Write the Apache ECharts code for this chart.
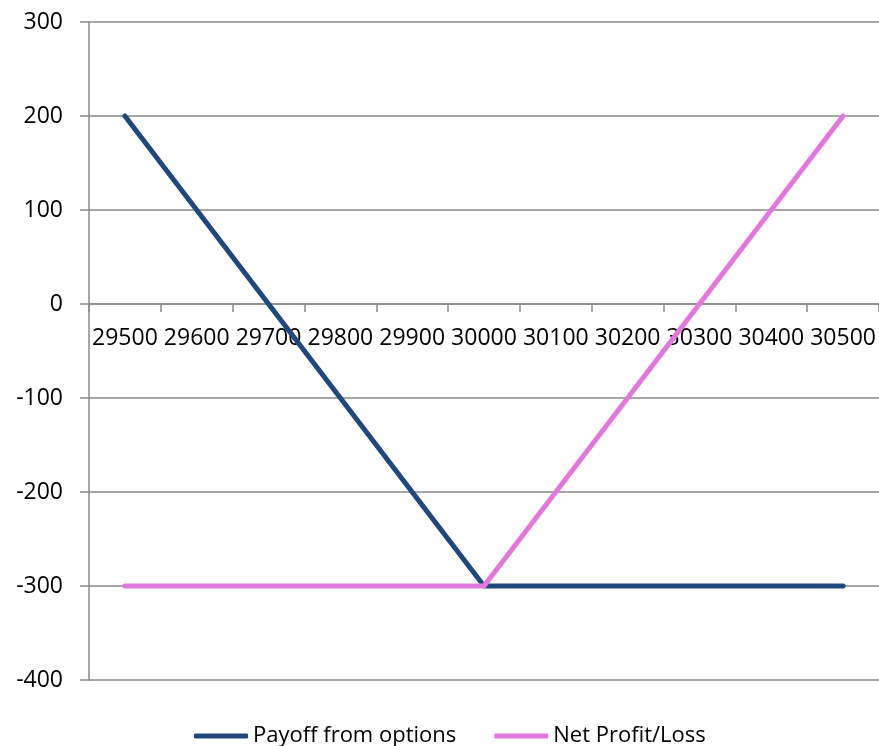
<!DOCTYPE html>
<html>
<head>
<meta charset="utf-8">
<script src="https://cdn.jsdelivr.net/npm/echarts@6/dist/echarts.min.js"></script>
<style>html,body{margin:0;padding:0;background:#fff;}#chart{width:879px;height:746px;}</style>
</head>
<body>
<div id="chart"></div>
<script>
const categories = ['29500','29600','29700','29800','29900','30000','30100','30200','30300','30400','30500'];
const payoffFromOptions = [200, 100, 0, -100, -200, -300, -300, -300, -300, -300, -300];
const netProfitLoss = [-300, -300, -300, -300, -300, -300, -200, -100, 0, 100, 200];
const seriesNames = ['Payoff from options', 'Net Profit/Loss'];

const FONT = '"Open Sans", sans-serif';
const GRAY = '#8a8a8a';
const chart = echarts.init(document.getElementById('chart'), null, {renderer: 'canvas'});
chart.setOption({
  animation: false,
  backgroundColor: '#ffffff',
  grid: {left: 89, top: 22, width: 792, height: 658, containLabel: false},
  legend: {
    top: 720,
    left: 189,
    itemGap: 38,
    itemWidth: 54,
    itemHeight: 5,
    icon: 'roundRect',
    textStyle: {fontFamily: FONT, fontSize: 22, color: '#000'},
    data: seriesNames
  },
  xAxis: {
    type: 'category',
    data: categories,
    boundaryGap: true,
    offset: -376,
    axisLine: {show: true, onZero: false, lineStyle: {color: GRAY, width: 1.5}},
    axisTick: {show: true, length: 8, alignWithLabel: false, lineStyle: {color: GRAY, width: 1.5}},
    axisLabel: {fontFamily: FONT, fontSize: 23, color: '#000', margin: 23, interval: 0},
    splitLine: {show: false}
  },
  yAxis: {
    type: 'value',
    min: -400,
    max: 300,
    interval: 100,
    axisLine: {show: true, lineStyle: {color: GRAY, width: 1.5}},
    axisTick: {show: true, length: 9, lineStyle: {color: GRAY, width: 1.5}},
    axisLabel: {fontFamily: FONT, fontSize: 23, color: '#000', margin: 26},
    splitLine: {show: true, lineStyle: {color: GRAY, width: 1.5}}
  },
  series: [
    {
      name: seriesNames[0],
      type: 'line',
      data: payoffFromOptions,
      showSymbol: false,
      symbol: 'none',
      color: '#1F497D',
      lineStyle: {width: 5, color: '#1F497D', cap: 'round', join: 'round'}
    },
    {
      name: seriesNames[1],
      type: 'line',
      data: netProfitLoss,
      showSymbol: false,
      symbol: 'none',
      color: '#E377DB',
      lineStyle: {width: 5, color: '#E377DB', cap: 'round', join: 'round'}
    }
  ]
});
</script>
</body>
</html>
